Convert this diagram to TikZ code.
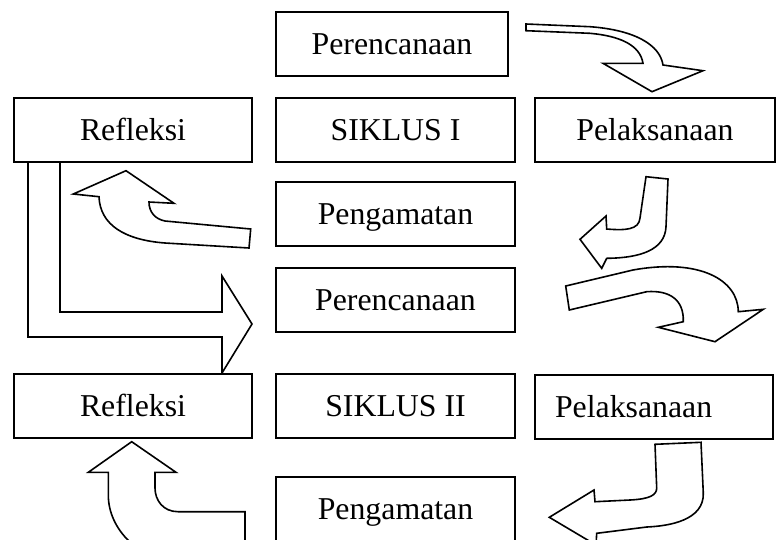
\documentclass[tikz,border=0pt]{standalone}
\usepackage{fontspec}
\setmainfont{Liberation Serif}
\tikzset{
  kotak/.style={draw,line width=2pt,fill=white,inner sep=0pt,minimum height=64pt,
    text height=21pt,text depth=0pt,font=\fontsize{31.8}{38}\selectfont},
  panah/.style={draw,line width=1.6pt,fill=white,line join=miter}
}
\begin{document}
\begin{tikzpicture}[x=1pt,y=-1pt]
\useasboundingbox (0,0) rectangle (776,539);
\clip (0,0) rectangle (776,539);
\fill[white] (0,0) rectangle (776,539);
% panah blok
\draw[panah] (28,162) -- (28,337) -- (222,337) -- (222,373) -- (252,324)
  -- (222,276) -- (222,312) -- (60,312) -- (60,162) -- cycle;
\draw[panah] (526,24) -- (590,26.7) .. controls (635,30) and (660,45) .. (663,65)
  -- (703,70.7) -- (652,91.7) -- (603,63.3) -- (643,63.3)
  .. controls (640,45) and (620,36) .. (590,33.3) -- (526,30.7) -- cycle;
\draw[panah] (646,176.7) -- (668,179) -- (666,226.7)
  .. controls (665,250) and (640,258) .. (606.7,258.3) -- (601.7,268.3)
  -- (580,239.3) -- (606,216) -- (606.7,229)
  .. controls (625,230.5) and (639,230) .. (640,218) -- cycle;
\draw[panah] (565.7,286) -- (633,270) .. controls (700,258) and (738,280) .. (738.3,311.7)
  -- (763.3,309.3) -- (715,341.7) -- (658.3,327.3) -- (683.3,321.7)
  .. controls (684,300) and (670,290) .. (646.7,291.7) -- (569.3,310) -- cycle;
\draw[panah] (655,444.3) -- (701,442.3) -- (703.3,493.3)
  .. controls (704,520) and (670,526) .. (646.7,527) -- (596.7,533.3)
  -- (596,545) -- (549.3,517.3) -- (594,490) -- (595,501.7) -- (630,500)
  .. controls (650,499) and (656.7,495) .. (656.7,488) -- cycle;
\draw[panah] (250.7,229) -- (165,221) .. controls (155,219) and (149,212) .. (149,202)
  -- (174,203.3) -- (126,170.7) -- (73.3,194) -- (99,196.7)
  .. controls (100,225) and (125,240) .. (165,243) -- (249,248) -- cycle;
\draw[panah] (245,560) -- (245,511.7) -- (178,511.7)
  .. controls (163,511.7) and (155,500) .. (155,488) -- (155,472.3) -- (176,472.3)
  -- (131.7,441.7) -- (88.3,472.3) -- (108.3,472.3) -- (108.3,495)
  .. controls (108.3,530) and (140,560) .. (180,565) -- (245,565) -- cycle;
% kotak
\node[kotak,minimum width=232pt] (per1) at (392,44) {Perencanaan};
\node[kotak,minimum width=238pt] (ref1) at (133,129.5) {Refleksi};
\node[kotak,minimum width=239pt] (sik1) at (395.5,129.5) {SIKLUS I};
\node[kotak,minimum width=240pt] (pel1) at (655,129.5) {Pelaksanaan};
\node[kotak,minimum width=239pt] (pen1) at (395.5,214) {Pengamatan};
\node[kotak,minimum width=239pt] (per2) at (395.5,300) {Perencanaan};
\node[kotak,minimum width=238pt] (ref2) at (133,406) {Refleksi};
\node[kotak,minimum width=239pt] (sik2) at (395.5,406) {SIKLUS II};
\node[kotak,minimum width=238pt,text width=198pt,inner xsep=20pt,align=left] (pel2) at (654,406.5) {Pelaksanaan};
\node[kotak,minimum width=239pt] (pen2) at (395.5,509) {Pengamatan};
\end{tikzpicture}
\end{document}
